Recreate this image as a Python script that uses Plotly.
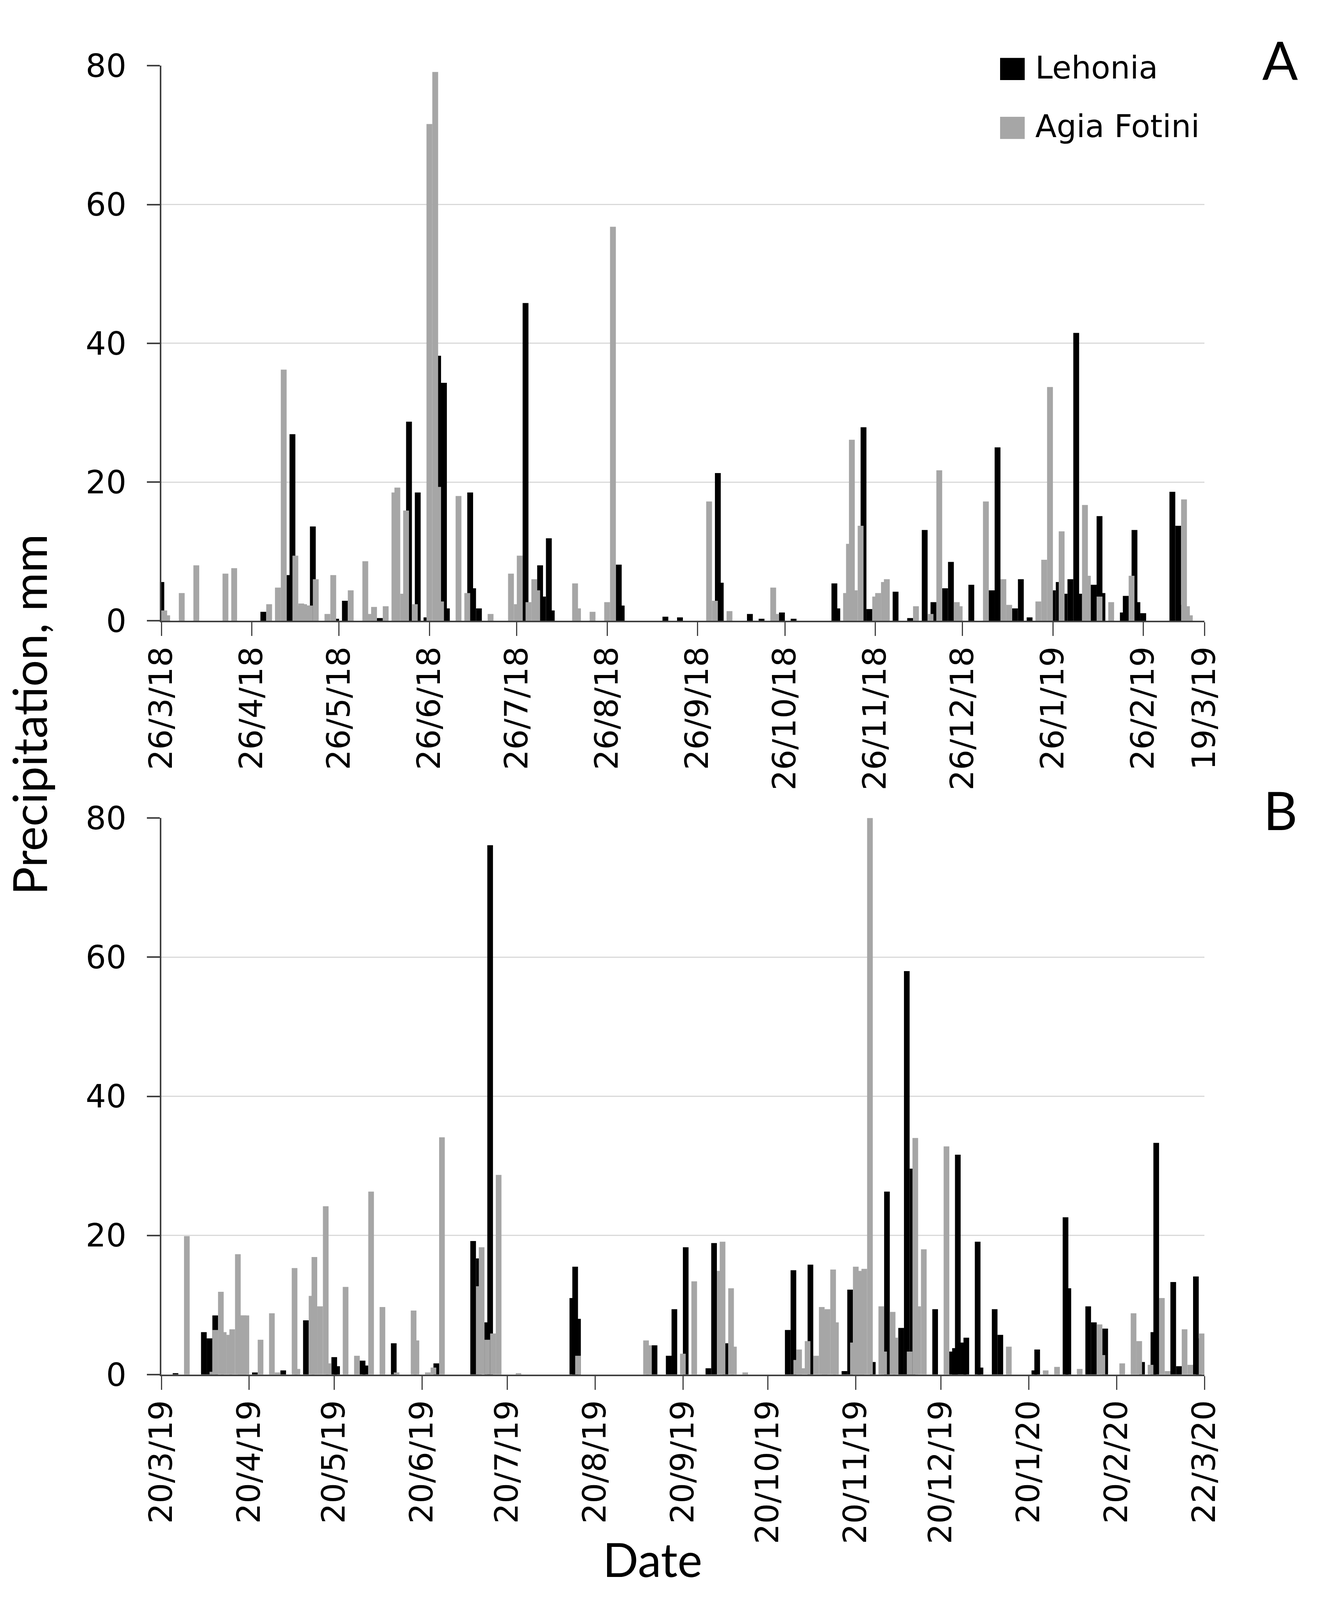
import pandas as pd
import plotly.graph_objects as go

# ---------------- data ----------------
# Panel A record: 26/3/18 - 19/3/19 ; day index counted from start_A
start_A = "2018-03-26"
end_A = "2019-03-19"
lehA_day = [0, 35, 44, 45, 52, 60, 63, 75, 85, 88, 91, 95, 97, 98, 106, 107, 109,
            125, 130, 131, 133, 134, 157, 158, 173, 178, 191, 192, 202, 206, 213, 217,
            231, 232, 241, 243, 252, 257, 262, 265, 269, 271, 278, 285, 287, 293, 295,
            298, 306, 308, 310, 312, 314, 315, 320, 322, 323, 330, 331, 334, 335, 337,
            347, 349, 350]
lehA_mm = [5.6, 1.3, 6.6, 26.9, 13.6, 0.3, 2.9, 0.4, 28.7, 18.5, 0.5, 38.2, 34.3, 1.8, 18.5, 4.7, 1.8,
           45.8, 8.0, 3.5, 11.9, 1.5, 8.1, 2.2, 0.6, 0.5, 21.3, 5.5, 1.0, 0.3, 1.2, 0.3,
           5.4, 1.8, 27.9, 1.7, 4.2, 0.4, 13.1, 2.7, 4.7, 8.5, 5.2, 4.4, 25.0, 1.8, 6.0,
           0.5, 4.4, 5.6, 3.9, 6.0, 41.5, 3.9, 5.2, 15.1, 4.0, 1.2, 3.6, 13.1, 2.7, 1.1,
           18.6, 13.7, 2.3]
agiaA_day = [1, 2, 7, 12, 22, 25, 37, 40, 42, 46, 47, 48, 49, 50, 51, 53, 57, 59, 65, 70,
             71, 73, 77, 80, 81, 83, 84, 87, 92, 94, 95, 96, 102, 105, 113, 120, 122, 123,
             126, 128, 129, 142, 143, 148, 153, 155, 188, 190, 195, 210, 211, 235, 236, 237,
             238, 240, 245, 246, 248, 249, 259, 264, 267, 273, 274, 283, 289, 291, 301, 303,
             305, 309, 317, 318, 322, 326, 333, 351, 352, 353]
agiaA_mm = [1.5, 0.8, 4.0, 8.0, 6.8, 7.6, 2.4, 4.8, 36.2, 9.4, 2.2, 2.5, 2.4, 2.2, 2.2, 6.0, 1.0, 6.6, 4.4, 8.6,
            1.0, 2.0, 2.1, 18.5, 19.2, 3.9, 15.9, 2.4, 71.6, 79.1, 19.3, 2.8, 18.0, 4.0, 1.0, 6.8, 2.4, 9.4,
            2.7, 6.0, 4.4, 5.4, 1.8, 1.3, 2.7, 56.8, 17.2, 2.9, 1.4, 4.8, 1.0, 4.0, 11.1, 26.1,
            4.4, 13.7, 3.5, 4.0, 5.6, 6.0, 2.1, 1.0, 21.7, 2.7, 2.1, 17.2, 6.0, 2.3, 2.8, 8.8,
            33.7, 12.9, 16.7, 6.5, 3.5, 2.7, 6.5, 17.5, 2.1, 0.8]

# Panel B record: 20/3/19 - 22/3/20 ; day index counted from start_B
start_B = "2019-03-20"
end_B = "2020-03-22"
lehB_day = [5, 15, 17, 19, 33, 43, 51, 61, 62, 71, 72, 82, 97, 110, 112, 115, 116,
            145, 146, 147, 174, 179, 181, 185, 193, 195, 199, 221, 223, 229, 241, 243,
            251, 256, 261, 263, 265, 273, 279, 280, 281, 283, 284, 288, 289, 294, 296,
            308, 309, 319, 320, 327, 329, 333, 346, 350, 351, 357, 359, 365, 366]
lehB_mm = [0.2, 6.1, 5.2, 8.5, 0.3, 0.6, 7.8, 2.5, 1.2, 2.0, 1.3, 4.5, 1.6, 19.2, 16.7, 7.5, 76.1,
           11.0, 15.5, 8.0, 4.2, 2.7, 9.4, 18.3, 0.9, 18.9, 4.5, 6.4, 15.0, 15.8, 0.5, 12.2,
           1.8, 26.3, 6.7, 58.0, 29.6, 9.4, 3.3, 3.8, 31.6, 4.6, 5.3, 19.1, 1.0, 9.4, 5.7,
           0.6, 3.6, 22.6, 12.4, 9.8, 7.5, 6.6, 1.8, 6.1, 33.3, 13.3, 1.2, 14.1, 5.2]
agiaB_day = [9, 18, 19, 21, 22, 24, 25, 27, 28, 29, 30, 35, 39, 41, 47, 48, 53, 54, 56, 58,
             59, 65, 69, 74, 78, 83, 89, 90, 94, 96, 99, 112, 113, 115, 117, 119, 126,
             147, 171, 172, 184, 188, 197, 198, 201, 202, 206, 224, 225, 226, 228, 231,
             233, 234, 235, 237, 238, 244, 245, 246, 247, 248, 250, 254, 255, 258, 259,
             264, 266, 267, 269, 277, 299, 312, 316, 324, 331, 332, 339, 343, 345, 349,
             353, 355, 361, 363, 367]
agiaB_mm = [19.9, 0.4, 6.4, 11.9, 6.1, 5.7, 6.5, 17.3, 8.5, 8.5, 8.5, 5.0, 8.8, 0.3, 15.3, 0.8, 11.3, 16.9, 9.8, 24.2,
            1.6, 12.6, 2.7, 26.3, 9.7, 0.3, 9.2, 4.9, 0.3, 1.0, 34.1, 12.7, 18.3, 5.0, 5.9, 28.7, 0.2,
            2.7, 4.9, 4.2, 3.0, 13.4, 14.9, 19.1, 12.4, 4.0, 0.3, 2.1, 3.6, 0.9, 4.8, 2.7,
            9.7, 9.2, 9.4, 15.1, 7.5, 4.6, 15.5, 14.9, 14.7, 15.2, 95.0, 9.8, 3.3, 9.0, 5.3,
            3.3, 34.0, 9.8, 18.0, 32.8, 4.0, 0.6, 1.1, 0.8, 7.2, 2.8, 1.6, 8.8, 4.8, 1.4,
            11.0, 0.5, 6.5, 1.4, 5.9]

tickA_dates = ["2018-03-26", "2018-04-26", "2018-05-26", "2018-06-26", "2018-07-26",
               "2018-08-26", "2018-09-26", "2018-10-26", "2018-11-26", "2018-12-26",
               "2019-01-26", "2019-02-26", "2019-03-19"]
tickA_text = ["26/3/18", "26/4/18", "26/5/18", "26/6/18", "26/7/18", "26/8/18",
              "26/9/18", "26/10/18", "26/11/18", "26/12/18", "26/1/19", "26/2/19", "19/3/19"]
tickB_dates = ["2019-03-20", "2019-04-20", "2019-05-20", "2019-06-20", "2019-07-20",
               "2019-08-20", "2019-09-20", "2019-10-20", "2019-11-20", "2019-12-20",
               "2020-01-20", "2020-02-20", "2020-03-22"]
tickB_text = ["20/3/19", "20/4/19", "20/5/19", "20/6/19", "20/7/19", "20/8/19",
              "20/9/19", "20/10/19", "20/11/19", "20/12/19", "20/1/20", "20/2/20", "22/3/20"]

series_names = ["Lehonia", "Agia Fotini"]
series_colors = ["#000000", "#a6a6a6"]


def to_dates(start, days):
    return pd.Timestamp(start) + pd.to_timedelta(days, unit="D")


DAY_MS = 86400000
BAR_W = 2.0 * DAY_MS

fig = go.Figure()
panels = [
    ("x", "y", start_A, [(lehA_day, lehA_mm), (agiaA_day, agiaA_mm)]),
    ("x2", "y2", start_B, [(lehB_day, lehB_mm), (agiaB_day, agiaB_mm)]),
]
for xa, ya, start, series in panels:
    for (days, vals), name, col in zip(series, series_names, series_colors):
        fig.add_trace(go.Bar(
            x=to_dates(start, days), y=vals, name=name,
            xaxis=xa, yaxis=ya, width=BAR_W,
            marker=dict(color=col, line=dict(width=0)),
            showlegend=False,
        ))

# reference canvas used for placing things as fractions of the page
W, H = 3384, 4698
tick_font = dict(family="DejaVu Sans", size=82, color="#000000")
title_font = dict(family="Lato", size=120, color="#000000")
axis_col = "#404040"

xdom = [413 / W, 3083 / W]
yA = [(H - 1823) / H, (H - 193) / H]
yB = [(H - 4036) / H, (H - 2402) / H]


def xaxis_cfg(r0, r1, tv, tt):
    return dict(domain=xdom, type="date", range=[r0, r1], tickmode="array",
                tickvals=tv, ticktext=tt, tickangle=-90, ticks="outside",
                ticklen=35, tickwidth=3, tickcolor=axis_col, showline=True,
                linecolor=axis_col, linewidth=4, showgrid=False, zeroline=False,
                tickfont=tick_font, ticklabelstandoff=-6, automargin=False)


def yaxis_cfg(dom, anchor):
    return dict(domain=dom, anchor=anchor, range=[0, 80], tickmode="array",
                tickvals=[0, 20, 40, 60, 80], ticks="outside", ticklen=33,
                tickwidth=4, tickcolor=axis_col, showline=True, linecolor=axis_col,
                linewidth=4, showgrid=True, gridcolor="#d9d9d9", gridwidth=3,
                zeroline=False, tickfont=tick_font, ticklabelstandoff=36,
                automargin=False)


fig.update_layout(
    autosize=True,
    margin=dict(l=0, r=0, t=0, b=0),
    paper_bgcolor="white", plot_bgcolor="white",
    barmode="overlay", showlegend=False,
    xaxis=dict(anchor="y", **xaxis_cfg(start_A, end_A, tickA_dates, tickA_text)),
    yaxis=yaxis_cfg(yA, "x"),
    xaxis2=dict(anchor="y2", **xaxis_cfg(start_B, end_B, tickB_dates, tickB_text)),
    yaxis2=yaxis_cfg(yB, "x2"),
)

# manual legend (large swatches like the original)
leg_rows = [(170, 235), (343, 408)]
for (t, b), name, col in zip(leg_rows, series_names, series_colors):
    fig.add_shape(type="rect", xref="paper", yref="paper",
                  x0=2560 / W, x1=2623 / W, y0=(H - b) / H, y1=(H - t) / H,
                  fillcolor=col, line=dict(width=0))
    fig.add_annotation(xref="paper", yref="paper", x=2648 / W, y=(H - (t + b) / 2 + 4) / H,
                       text=name, showarrow=False, xanchor="left", yanchor="middle",
                       font=dict(family="DejaVu Sans", size=80, color="#000000"))

fig.add_annotation(xref="paper", yref="paper", x=74 / W, y=(H - 2098) / H,
                   text="Precipitation, mm", textangle=-90, showarrow=False,
                   xanchor="center", yanchor="middle", font=title_font)
fig.add_annotation(xref="paper", yref="paper", x=1670 / W, y=(H - 4578) / H,
                   text="Date", showarrow=False, xanchor="center", yanchor="middle",
                   font=title_font)
fig.add_annotation(xref="paper", yref="paper", x=3276 / W, y=(H - 176) / H,
                   text="A", showarrow=False, xanchor="center", yanchor="middle",
                   font=dict(family="Lato", size=135, color="#000000"))
fig.add_annotation(xref="paper", yref="paper", x=3277 / W, y=(H - 2378) / H,
                   text="B", showarrow=False, xanchor="center", yanchor="middle",
                   font=dict(family="Lato", size=135, color="#000000"))

fit_script = (
    "document.documentElement.style.margin='0';"
    "document.body.style.margin='0';"
    "document.documentElement.style.overflow='hidden';"
    "document.body.style.overflow='hidden';"
    "var gd=document.getElementById('{plot_id}');"
    "gd.style.width='100vw';gd.style.height='100vh';"
    "Plotly.Plots.resize(gd);"
)

fig.write_html("out.html", default_width="100vw", default_height="100vh",
               config={"responsive": True, "displayModeBar": False},
               post_script=fit_script)
